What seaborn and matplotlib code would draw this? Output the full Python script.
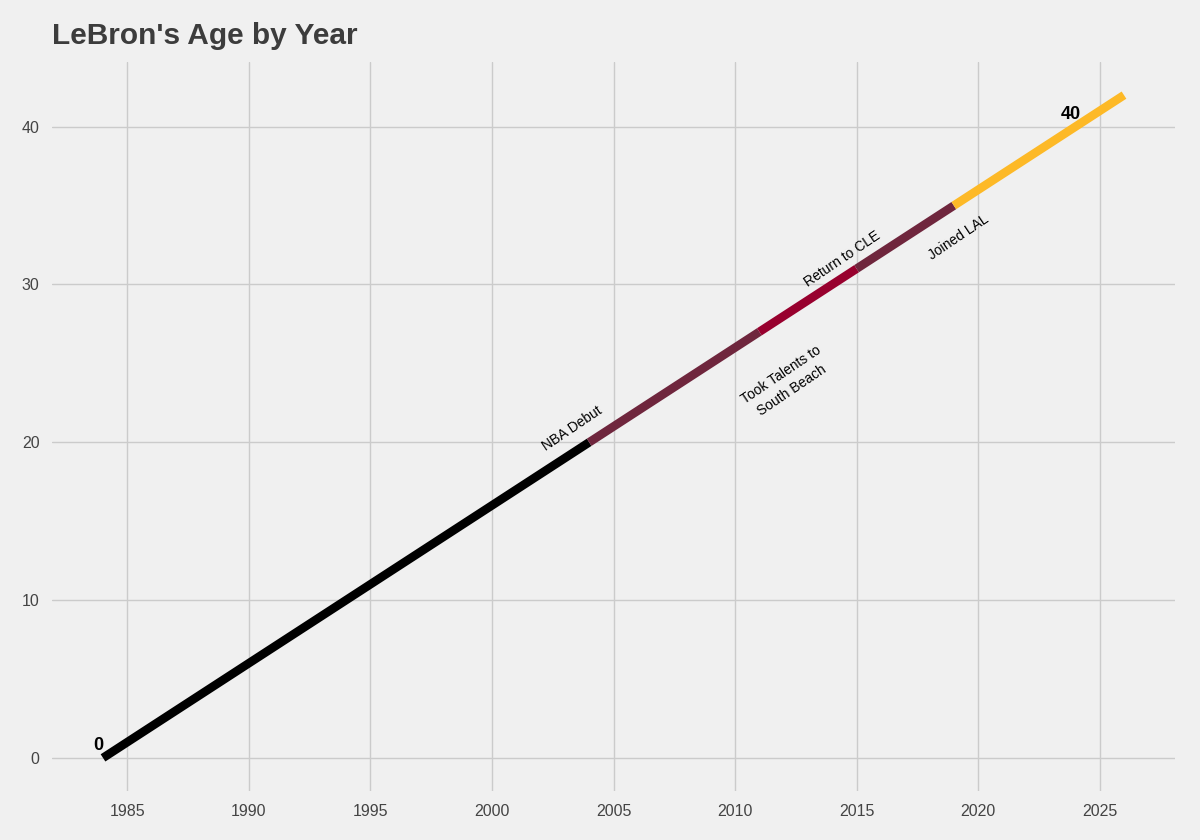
"""LeBron's age by year, coloured by team era."""
import matplotlib
matplotlib.use('Agg')
import matplotlib.pyplot as plt
import pandas as pd
import seaborn as sns

# age at each year, 1984 -> 2026
years = list(range(1984, 2027))
ages = [y - 1984 for y in years]

# team eras (start year, end year, colour)
era_starts = [1984, 2004, 2011, 2015, 2019]
era_ends = [2004, 2011, 2015, 2019, 2026]
era_colors = ['#000000', '#6F263D', '#98002E', '#6F263D', '#FDB927']

# annotations: text, year, age
note_texts = ['NBA Debut', 'Took Talents to\nSouth Beach', 'Return to CLE', 'Joined LAL']
note_years = [2003.3, 2012.1, 2014.4, 2019.2]
note_ages = [20.9, 23.8, 31.6, 33.0]

df = pd.DataFrame({'year': years, 'age': ages})

sns.set_theme(style='whitegrid', rc={
    'axes.facecolor': '#f0f0f0',
    'figure.facecolor': '#f0f0f0',
    'grid.color': '#cbcbcb',
    'grid.linewidth': 1.0,
    'axes.edgecolor': '#f0f0f0',
    'xtick.color': '#444444',
    'ytick.color': '#444444',
})
plt.rcParams['font.family'] = ['Liberation Sans', 'DejaVu Sans']

fig = plt.figure(figsize=(12, 8.4), dpi=100)
ax = fig.add_axes([0.0433, 0.0583, 0.9359, 0.8679])

for start, end, color in zip(era_starts, era_ends, era_colors):
    seg = df[(df['year'] >= start) & (df['year'] <= end)]
    sns.lineplot(data=seg, x='year', y='age', color=color, linewidth=6.2,
                 solid_capstyle='butt', ax=ax)

for text, x, y in zip(note_texts, note_years, note_ages):
    ax.text(x, y, text, rotation=34, fontsize=10, ha='center', va='center',
            rotation_mode='anchor', color='#000000', multialignment='center',
            linespacing=1.45)

# first and last highlighted ages
ax.text(years[0] - 0.2, ages[0] + 0.8, str(ages[0]), fontsize=13, fontweight='bold',
        ha='center', va='center', color='#000000')
ax.text(2023.8, 40.8, '40', fontsize=13, fontweight='bold', ha='center', va='center',
        color='#000000')

ax.margins(0.05)
ax.set_yticks([0, 10, 20, 30, 40])
ax.set_xticks(range(1985, 2030, 5))
ax.set_xlabel('')
ax.set_ylabel('')
ax.tick_params(axis='both', length=0, labelsize=11.5)
ax.tick_params(axis='x', pad=9)
ax.tick_params(axis='y', pad=9)
for spine in ax.spines.values():
    spine.set_visible(False)

ax.set_title("LeBron's Age by Year", loc='left', fontsize=21.5, fontweight='bold',
             color='#3c3c3c', pad=13)

fig.savefig('out.png', dpi=100, facecolor=fig.get_facecolor())
